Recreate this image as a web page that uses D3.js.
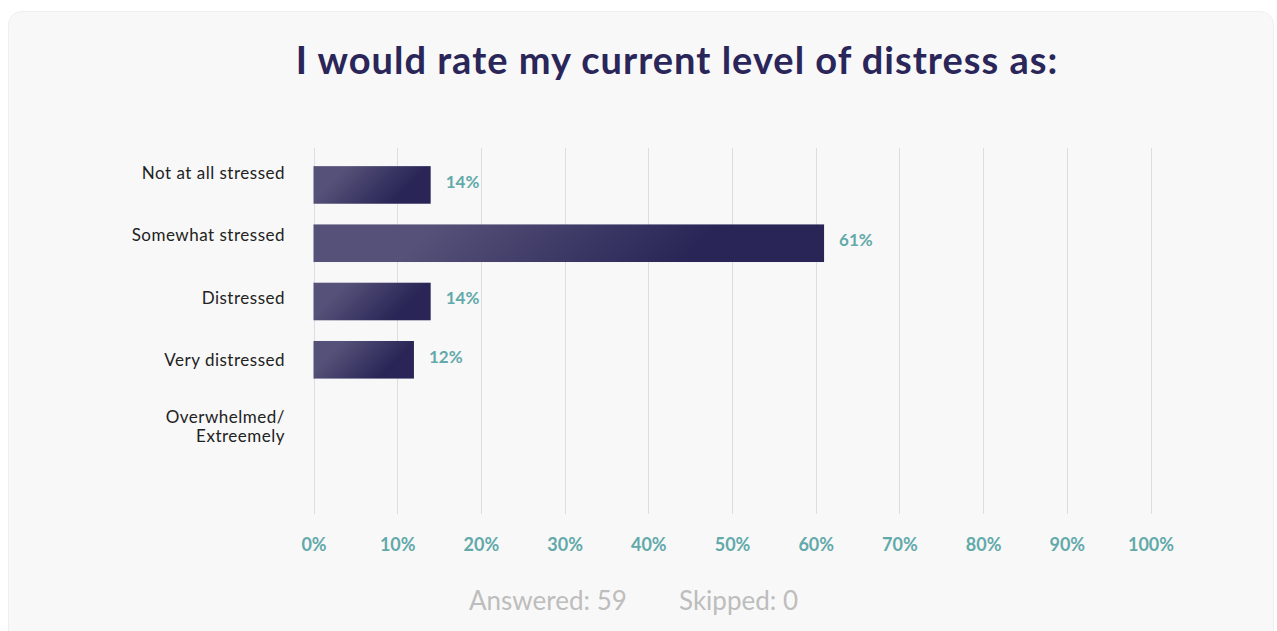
<!DOCTYPE html>
<html>
<head>
<meta charset="utf-8">
<script src="https://cdn.jsdelivr.net/npm/d3@7"></script>
<style>
  html, body { margin: 0; padding: 0; background: #ffffff; }
  svg { display: block; }
</style>
</head>
<body>
<svg id="chart" width="1277" height="631"></svg>
<script>
// Survey responses: share of respondents per distress level (%)
const categories = [
  "Not at all stressed",
  "Somewhat stressed",
  "Distressed",
  "Very distressed",
  "Overwhelmed/\nExtreemely"
];
const values = [14, 61, 14, 12, null];
const tickValues = [0, 10, 20, 30, 40, 50, 60, 70, 80, 90, 100];
const titleText = "I would rate my current level of distress as:";
const answered = 59;
const skipped = 0;

const svg = d3.select("#chart");

// Card background
svg.append("rect")
  .attr("x", 8.5).attr("y", 11.5)
  .attr("width", 1265).attr("height", 640)
  .attr("rx", 13).attr("ry", 13)
  .attr("fill", "#f8f8f8")
  .attr("stroke", "#efefef");

// Title
svg.append("text")
  .attr("x", 677).attr("y", 74)
  .attr("text-anchor", "middle")
  .attr("font-family", "Lato, 'Open Sans', sans-serif")
  .attr("font-weight", 700)
  .attr("font-size", 38)
  .attr("letter-spacing", 1)
  .attr("fill", "#2a2659")
  .text(titleText);

// Scales
const x = d3.scaleLinear().domain([0, 100]).range([313.5, 1150.5]);
const y = d3.scaleBand()
  .domain(categories)
  .range([137, 466])
  .paddingInner(0.355)
  .paddingOuter(0.5);
// Category labels sit on their own, slightly wider spacing
const yLabel = d3.scalePoint()
  .domain(categories)
  .range([173, 423]);

// Vertical gridlines
const gridTop = 148, gridBottom = 514;
svg.append("g")
  .selectAll("line")
  .data(tickValues)
  .join("line")
  .attr("x1", d => Math.round(x(d)) + 0.5)
  .attr("x2", d => Math.round(x(d)) + 0.5)
  .attr("y1", gridTop).attr("y2", gridBottom)
  .attr("stroke", "#dcdce3")
  .attr("stroke-width", 1);

// X axis labels
const xAxis = d3.axisBottom(x)
  .tickValues(tickValues)
  .tickFormat(d => d + "%")
  .tickSize(0)
  .tickPadding(0);
const gx = svg.append("g")
  .attr("transform", "translate(0, 538)")
  .call(xAxis);
gx.select(".domain").remove();
gx.selectAll("text")
  .attr("font-family", "Lato, sans-serif")
  .attr("font-weight", 700)
  .attr("font-size", 18)
  .attr("fill", "#62a9aa");

// Category labels
const gy = svg.append("g").attr("transform", "translate(285,0)");
gy.selectAll("text")
  .data(categories)
  .join("text")
  .attr("text-anchor", "end")
  .attr("font-family", "Lato, sans-serif")
  .attr("font-size", 17)
  .attr("letter-spacing", 0.5)
  .attr("fill", "#222222")
  .each(function(d) {
    const lines = d.split("\n");
    const lh = 19;
    const c = yLabel(d) + (lines.length > 1 ? 4 : 0);
    const off = c - (lines.length - 1) * lh / 2;
    lines.forEach((ln, i) => {
      d3.select(this).append("tspan")
        .attr("x", 0).attr("y", off + i * lh).attr("dy", "0.35em").text(ln);
    });
  });

// Bars, each with its own 135° gradient
const data = categories.map((c, i) => ({ c, v: values[i], i })).filter(d => d.v != null);
const defs = svg.append("defs");
data.forEach(d => {
  const x0 = x(0), y0 = y(d.c);
  const w = x(d.v) - x(0), h = y.bandwidth();
  const cx = x0 + w / 2, cy = y0 + h / 2, r = (w + h) / 4;
  const g = defs.append("linearGradient")
    .attr("id", "barGrad" + d.i)
    .attr("gradientUnits", "userSpaceOnUse")
    .attr("x1", cx - r).attr("y1", cy - r)
    .attr("x2", cx + r).attr("y2", cy + r);
  g.append("stop").attr("offset", 0.22).attr("stop-color", "#555178");
  g.append("stop").attr("offset", 0.74).attr("stop-color", "#292657");
});
svg.append("g")
  .selectAll("rect")
  .data(data)
  .join("rect")
  .attr("x", x(0))
  .attr("y", d => y(d.c))
  .attr("width", d => x(d.v) - x(0))
  .attr("height", y.bandwidth())
  .attr("fill", d => `url(#barGrad${d.i})`);

// Value labels
svg.append("g")
  .selectAll("text")
  .data(data)
  .join("text")
  .attr("x", d => x(d.v) + 15)
  .attr("y", d => y(d.c) + y.bandwidth() / 2 - 3)
  .attr("dy", "0.35em")
  .attr("font-family", "Lato, sans-serif")
  .attr("font-weight", 700)
  .attr("font-size", 17)
  .attr("fill", "#62a9aa")
  .text(d => d.v + "%");

// Footer
const footer = svg.append("text")
  .attr("y", 610)
  .attr("font-family", "Lato, sans-serif")
  .attr("font-size", 26)
  .attr("fill", "#bdbdbd");
footer.append("tspan").attr("x", 469).text("Answered: " + answered);
footer.append("tspan").attr("x", 679).text("Skipped: " + skipped);
</script>
</body>
</html>
